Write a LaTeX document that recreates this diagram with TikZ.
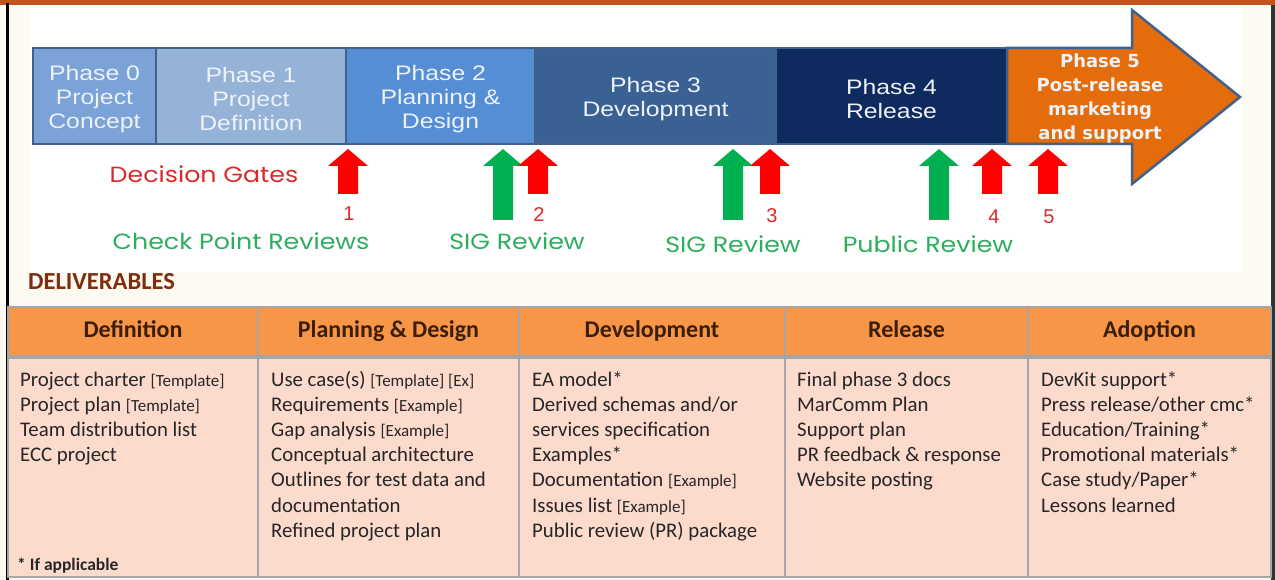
\documentclass[tikz,border=0pt]{standalone}
\usepackage{fontspec}
\setmainfont{Carlito}
\newfontfamily\phasefont[FakeStretch=1.18]{Liberation Sans}
\newfontfamily\gatefont[FakeStretch=1.15]{Poppins}
\newfontfamily\numfont{Liberation Sans}
\newfontfamily\fivefont{DejaVu Sans}
\usetikzlibrary{positioning}

\definecolor{pageback}{HTML}{FDFAF1}
\definecolor{topstrip}{HTML}{C4521C}
\definecolor{phaseline}{HTML}{41618A}
\definecolor{phzero}{HTML}{7BA3D8}
\definecolor{phone}{HTML}{95B3D7}
\definecolor{phtwo}{HTML}{558ED5}
\definecolor{phthree}{HTML}{3A6194}
\definecolor{phfour}{HTML}{0E2A5E}
\definecolor{phfive}{HTML}{E46C0A}
\definecolor{phtext}{HTML}{EEF2F8}
\definecolor{gatered}{HTML}{FF0000}
\definecolor{gategreen}{HTML}{00B050}
\definecolor{gatetext}{HTML}{DC2A2A}
\definecolor{reviewtext}{HTML}{2DAE5F}
\definecolor{delivbrown}{HTML}{7E2E0E}
\definecolor{headorange}{HTML}{F79646}
\definecolor{headtext}{HTML}{3A1E0C}
\definecolor{cellpeach}{HTML}{FCDBCD}
\definecolor{cellline}{HTML}{A6A6A6}
\definecolor{itemtext}{HTML}{262626}

\newcommand\brk[1]{{\fontsize{17}{17}\selectfont #1}}
\newcommand\lift{\rule{0pt}{21pt}}

\tikzset{
  phase/.style={rectangle, draw=phaseline, line width=2.5pt, minimum height=96pt,
    inner sep=0pt, outer sep=0pt, text=phtext, align=center,
    font=\phasefont\fontsize{21}{24}\selectfont},
  gatelabel/.style={anchor=base, inner sep=0pt, font=\gatefont\fontsize{22}{22}\selectfont},
  gatenum/.style={inner sep=0pt, text=gatetext, font=\numfont\fontsize{20}{20}\selectfont},
  headcell/.style={rectangle, fill=headorange, draw=cellline, line width=1.5pt,
    minimum height=50pt, inner sep=0pt, outer sep=0pt, text=headtext,
    text height=16pt, text depth=5pt, font=\bfseries\fontsize{24}{24}\selectfont},
  bodycell/.style={rectangle, fill=cellpeach, draw=cellline, line width=1.5pt,
    minimum height=220pt, inner sep=0pt, outer sep=0pt},
  item/.style={anchor=base west, inner sep=0pt, text=itemtext,
    font=\fontsize{20.8}{25}\selectfont},
}

\begin{document}
\begin{tikzpicture}[x=1pt,y=-1pt]
    \useasboundingbox (0,0) rectangle (1275,580);
    % page
    \fill[pageback] (0,0) rectangle (1275,580);
    \fill[white] (30,8) rectangle (1242,272);
    \fill[topstrip] (0,0) rectangle (1275,5);
    \fill[black] (5.5,3) rectangle (8.5,580);
    \fill[black!80] (1271,5) rectangle (1275,580);

    % phases
    \node[phase, fill=phzero, minimum width=123pt] (ph0) at (94.5,96) {\lift Phase 0\\Project\\Concept};
    \node[phase, fill=phone, minimum width=190pt, right=0pt of ph0] (ph1) {\lift Phase 1\\Project\\Definition};
    \node[phase, fill=phtwo, minimum width=189pt, right=0pt of ph1] (ph2) {\lift Phase 2\\Planning \&\\Design};
    \node[phase, fill=phthree, minimum width=241pt, right=0pt of ph2] (ph3) {\lift Phase 3\\Development};
    \node[phase, fill=phfour, minimum width=231pt, right=0pt of ph3] (ph4) {\lift Phase 4\\Release};
    \filldraw[fill=phfive, draw=phaseline, line width=2.5pt, line join=miter]
        (ph4.north east) -- (1132,48) -- (1132,10) -- (1240,97) -- (1132,184)
        -- (1132,144) -- (ph4.south east) -- cycle;
    \node[text=phtext, align=center, font=\fivefont\bfseries\fontsize{18}{23.7}\selectfont] (ph5)
        at (1100,98.5) {Phase 5\\Post-release\\marketing\\and support};

    % gates
    \foreach \x in {503,733,939}
        \fill[gategreen] (\x-10,220) -- (\x-10,166) -- (\x-20,166) -- (\x,149)
            -- (\x+20,166) -- (\x+10,166) -- (\x+10,220) -- cycle;
    \foreach \x in {348,538,770,992,1048}
        \fill[gatered] (\x-10,194) -- (\x-10,166) -- (\x-20,166) -- (\x,149)
            -- (\x+20,166) -- (\x+10,166) -- (\x+10,194) -- cycle;
    \foreach \x/\y/\n in {349/214/1,539/215/2,772/216/3,994/217/4,1049/217/5}
        \node[gatenum] (num\n) at (\x,\y) {\n};

    \node[gatelabel, text=gatetext] (gates) at (204,183) {Decision Gates};
    \node[gatelabel, text=reviewtext] (checks) at (241,250) {Check Point Reviews};
    \node[gatelabel, text=reviewtext] (sigone) at (517,250) {SIG Review};
    \node[gatelabel, text=reviewtext] (sigtwo) at (733,253) {SIG Review};
    \node[gatelabel, text=reviewtext] (public) at (928,253) {Public Review};

    % deliverables
    \node[anchor=base west, inner sep=0pt, text=delivbrown,
        font=\bfseries\fontsize{24.5}{24.5}\selectfont] (deliv) at (28,290) {DELIVERABLES};

    \node[headcell, minimum width=250pt] (h1) at (133,332) {Definition};
    \node[headcell, minimum width=261pt, right=0pt of h1] (h2) {Planning \& Design};
    \node[headcell, minimum width=266pt, right=0pt of h2] (h3) {Development};
    \node[headcell, minimum width=243pt, right=0pt of h3] (h4) {Release};
    \node[headcell, minimum width=243pt, right=0pt of h4] (h5) {Adoption};
    \foreach \c/\w in {1/250,2/261,3/266,4/243,5/243}
        \node[bodycell, minimum width=\w pt, below=0pt of h\c] (b\c) {};
    \draw[cellline, line width=4pt] (h1.south west) -- (h5.south east);

    \foreach \t [count=\i] in {{Project charter \brk{[Template]}},{Project plan \brk{[Template]}},
            Team distribution list,ECC project}
        \node[item] (def\i) at (20,{386+25.2*(\i-1)}) {\t};
    \foreach \t [count=\i] in {{Use case(s) \brk{[Template] [Ex]}},{Requirements \brk{[Example]}},
            {Gap analysis \brk{[Example]}},Conceptual architecture,Outlines for test data and,
            documentation,Refined project plan}
        \node[item] (plan\i) at (271,{386+25.2*(\i-1)}) {\t};
    \foreach \t [count=\i] in {EA model*,Derived schemas and/or,services specification,Examples*,
            {Documentation \brk{[Example]}},{Issues list \brk{[Example]}},Public review (PR) package}
        \node[item] (dev\i) at (532,{386+25.2*(\i-1)}) {\t};
    \foreach \t [count=\i] in {Final phase 3 docs,MarComm Plan,Support plan,
            PR feedback \& response,Website posting}
        \node[item] (rel\i) at (797,{386+25.2*(\i-1)}) {\t};
    \foreach \t [count=\i] in {DevKit support*,Press release/other cmc*,Education/Training*,
            Promotional materials*,Case study/Paper*,Lessons learned}
        \node[item] (adopt\i) at (1041,{386+25.2*(\i-1)}) {\t};

    \node[anchor=base west, inner sep=0pt, text=itemtext,
        font=\bfseries\fontsize{17.5}{17.5}\selectfont] (note) at (17,570) {* If applicable};
\end{tikzpicture}
\end{document}
